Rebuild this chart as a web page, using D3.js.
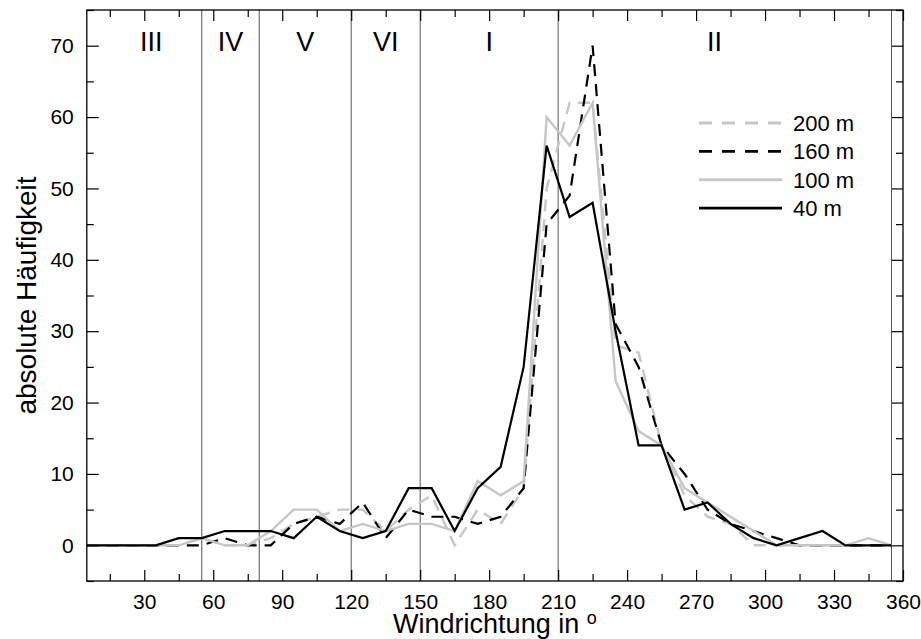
<!DOCTYPE html>
<html>
<head>
<meta charset="utf-8">
<script src="https://cdn.jsdelivr.net/npm/d3@7"></script>
<style>
  body { margin: 0; background: #fff; }
  svg { display: block; font-family: "Liberation Sans", Arial, Helvetica, sans-serif; }
</style>
</head>
<body>
<svg id="chart" width="921" height="639"></svg>
<script>
// Klassenmitten der Windrichtung (10°-Sektoren)
const directions = d3.range(5, 360, 10);

// absolute Häufigkeit je Messhöhe
const h200 = [0,0,0,0,0,1,0,0,1,3,4,5,5,2,5,7,0,5,3,8,50,62,62,28,27,14,7,4,3,0,0,0,0,0,0,0];
const h160 = [0,0,0,0,0,0,1,0,0,3,4,3,6,1,5,4,4,3,4,8,45,49,70,31,25,14,10,5,3,2,1,0,0,0,0,0];
const h100 = [0,0,0,0,0,1,0,0,2,5,5,2,3,2,3,3,2,9,7,9,60,56,62,23,16,14,8,6,4,2,0,0,0,0,1,0];
const h40  = [0,0,0,0,1,1,2,2,2,1,4,2,1,2,8,8,2,8,11,25,56,46,48,30,14,14,5,6,3,1,0,1,2,0,0,0];

const seriesNames = ["200 m", "160 m", "100 m", "40 m"];
const seriesData = [h200, h160, h100, h40];

// Sektorgrenzen und -namen
const sectorBounds = [55, 80, 120, 150, 210, 355];
const sectorNames = ["III", "IV", "V", "VI", "I", "II"];
const sectorPos = [33, 67.5, 100, 135, 180, 278];

const xTicks = d3.range(30, 361, 30);
const xMinor = d3.range(15, 360, 30);
const yTicks = d3.range(0, 71, 10);
const yMinor = d3.range(-5, 76, 10);

const pLeft = 86.8, pRight = 903, pTop = 10, pBottom = 581;

const svg = d3.select("#chart");

const x = d3.scaleLinear().domain([5, 360]).range([pLeft, pRight]);
const y = d3.scaleLinear().domain([-5, 75]).range([pBottom, pTop]);

// Stile der Linien
const styles = [
  { color: "#c6c6c6", dash: "12,8", width: 2.4 },
  { color: "#000", dash: "12,8", width: 2.2 },
  { color: "#c6c6c6", dash: null, width: 2.4 },
  { color: "#000", dash: null, width: 2.2 }
];

// Sektorlinien
svg.append("g")
  .selectAll("line")
  .data(sectorBounds)
  .enter()
  .append("line")
  .attr("x1", d => x(d)).attr("x2", d => x(d))
  .attr("y1", pTop).attr("y2", pBottom)
  .attr("stroke", "#555")
  .attr("stroke-width", 1);

// Sektorbeschriftung
svg.append("g")
  .selectAll("text")
  .data(sectorNames)
  .enter()
  .append("text")
  .attr("x", (d, i) => x(sectorPos[i]))
  .attr("y", 51)
  .attr("text-anchor", "middle")
  .attr("font-size", 27)
  .text(d => d);

// Achsen (Ticks nach innen)
function styleAxis(g) {
  g.select(".domain").remove();
  g.selectAll(".tick line").attr("stroke", "#000").attr("stroke-width", 1.2);
}

svg.append("g")
  .attr("transform", `translate(0,${pBottom})`)
  .call(d3.axisBottom(x).tickValues(xTicks).tickSize(-11).tickPadding(13))
  .call(styleAxis)
  .call(g => g.selectAll("text").attr("font-size", 21).attr("fill", "#000")
    .attr("font-family", "Liberation Sans, Arial, sans-serif"));

svg.append("g")
  .attr("transform", `translate(0,${pBottom})`)
  .call(d3.axisBottom(x).tickValues(xMinor).tickSize(-7).tickFormat(""))
  .call(styleAxis);

svg.append("g")
  .attr("transform", `translate(0,${pTop})`)
  .call(d3.axisTop(x).tickValues(xTicks).tickSize(-11).tickFormat(""))
  .call(styleAxis);

svg.append("g")
  .attr("transform", `translate(0,${pTop})`)
  .call(d3.axisTop(x).tickValues(xMinor).tickSize(-7).tickFormat(""))
  .call(styleAxis);

svg.append("g")
  .attr("transform", `translate(${pLeft},0)`)
  .call(d3.axisLeft(y).tickValues(yTicks).tickSize(-12).tickPadding(13))
  .call(styleAxis)
  .call(g => g.selectAll("text").attr("font-size", 21).attr("fill", "#000")
    .attr("font-family", "Liberation Sans, Arial, sans-serif"));

svg.append("g")
  .attr("transform", `translate(${pLeft},0)`)
  .call(d3.axisLeft(y).tickValues(yMinor).tickSize(-7).tickFormat(""))
  .call(styleAxis);

svg.append("g")
  .attr("transform", `translate(${pRight},0)`)
  .call(d3.axisRight(y).tickValues(yTicks).tickSize(-11).tickFormat(""))
  .call(styleAxis);

svg.append("g")
  .attr("transform", `translate(${pRight},0)`)
  .call(d3.axisRight(y).tickValues(yMinor).tickSize(-7).tickFormat(""))
  .call(styleAxis);

// Linien
const line = d3.line()
  .x((d, i) => x(directions[i]))
  .y(d => y(d));

svg.append("g")
  .selectAll("path")
  .data(seriesData)
  .enter()
  .append("path")
  .attr("d", line)
  .attr("fill", "none")
  .attr("stroke", (d, i) => styles[i].color)
  .attr("stroke-width", (d, i) => styles[i].width)
  .attr("stroke-dasharray", (d, i) => styles[i].dash)
  .attr("stroke-linejoin", "miter");

// Rahmen
svg.append("rect")
  .attr("x", pLeft).attr("y", pTop)
  .attr("width", pRight - pLeft).attr("height", pBottom - pTop)
  .attr("fill", "none")
  .attr("stroke", "#000")
  .attr("stroke-width", 1.3);

// Legende
const legend = svg.append("g");
seriesNames.forEach((name, i) => {
  const ly = 123 + i * 28.4;
  legend.append("line")
    .attr("x1", 699).attr("x2", 782)
    .attr("y1", ly).attr("y2", ly)
    .attr("stroke", styles[i].color)
    .attr("stroke-width", styles[i].width + 0.6)
    .attr("stroke-dasharray", styles[i].dash ? "13,10" : null);
  legend.append("text")
    .attr("x", 793).attr("y", ly)
    .attr("dy", "0.36em")
    .attr("font-size", 22)
    .text(name);
});

// Achsentitel
svg.append("text")
  .attr("x", (pLeft + pRight) / 2)
  .attr("y", 633)
  .attr("text-anchor", "middle")
  .attr("font-size", 27)
  .text("Windrichtung in ")
  .append("tspan")
  .attr("dy", -9)
  .attr("font-size", 18)
  .text("o");

svg.append("text")
  .attr("transform", `translate(36,${(pTop + pBottom) / 2}) rotate(-90)`)
  .attr("text-anchor", "middle")
  .attr("font-size", 28)
  .text("absolute Häufigkeit");
</script>
</body>
</html>
